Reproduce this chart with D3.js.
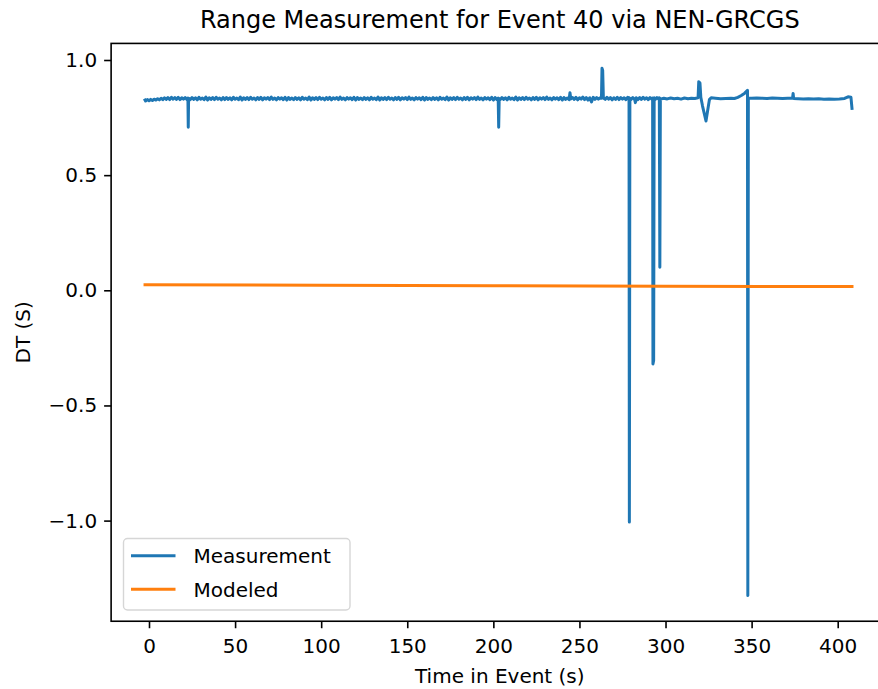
<!DOCTYPE html>
<html>
<head>
<meta charset="utf-8">
<script src="https://cdn.jsdelivr.net/npm/d3@7"></script>
<style>
  body { margin: 0; background: #fff; }
  text { font-family: "DejaVu Sans", sans-serif; fill: #000; }
  .tick line { stroke: #000; stroke-width: 1.6; }
  .tick text { font-size: 20px; }
</style>
</head>
<body>
<svg id="chart" width="878" height="689"></svg>
<script>
// time (s), DT (s)
const measurement = [
  [-2.3,.826],[-2,.822],[-1,.828],[0,.823],[1,.829],[2,.824],[3,.830],[4,.826],[5,.832],[6,.827],[7,.834],
  [8,.828],[9,.836],[10,.829],[11,.837],[12,.828],[13,.838],[14,.830],[15,.837],[16,.829],[17,.838],
  [18,.828],[19,.836],[20,.830],[21,.837],[22,.829],[22.6,.835],[22.8,.708],[23.0,.834],
  [24,.828],[25,.837],[26,.829],[27,.836],[28,.827],[29,.838],[30,.830],[31,.835],[32,.828],[33,.839],
  [34,.826],[35,.836],[36,.829],[37,.837],[38,.828],[39,.838],[40,.830],[41,.835],[42,.827],[43,.837],
  [44,.828],[45,.837],[46,.829],[47,.836],[48,.827],[49,.838],[50,.830],[51,.835],[52,.828],[53,.839],
  [54,.826],[55,.836],[56,.829],[57,.837],[58,.828],[59,.838],[60,.830],[61,.835],[62,.827],[63,.837],
  [64,.829],[65,.838],[66,.827],[67,.836],[68,.830],[69,.837],[70,.828],[71,.839],[72,.829],[73,.835],
  [74,.827],[75,.837],[76,.830],[77,.836],[78,.828],[79,.838],[80,.826],[81,.837],[82,.829],[83,.835],
  [84,.828],[85,.837],[86,.829],[87,.836],[88,.827],[89,.838],[90,.830],[91,.835],[92,.828],[93,.839],
  [94,.826],[95,.836],[96,.829],[97,.837],[98,.828],[99,.838],[100,.830],[101,.835],[102,.827],[103,.837],
  [104,.829],[105,.838],[106,.827],[107,.836],[108,.830],[109,.837],[110,.828],[111,.839],[112,.829],[113,.835],
  [114,.827],[115,.837],[116,.830],[117,.836],[118,.828],[119,.838],[120,.826],[121,.837],[122,.829],[123,.835],
  [124,.828],[125,.837],[126,.829],[127,.836],[128,.827],[129,.838],[130,.830],[131,.835],[132,.828],[133,.839],
  [134,.826],[135,.836],[136,.829],[137,.837],[138,.828],[139,.838],[140,.830],[141,.835],[142,.827],[143,.837],
  [144,.829],[145,.838],[146,.827],[147,.836],[148,.830],[149,.837],[150,.828],[151,.839],[152,.829],[153,.835],
  [154,.827],[155,.837],[156,.830],[157,.836],[158,.828],[159,.838],[160,.826],[161,.837],[162,.829],[163,.835],
  [164,.828],[165,.837],[166,.829],[167,.836],[168,.827],[169,.838],[170,.830],[171,.835],[172,.828],[173,.839],
  [174,.826],[175,.836],[176,.829],[177,.837],[178,.828],[179,.838],[180,.830],[181,.835],[182,.827],[183,.837],
  [184,.829],[185,.838],[186,.827],[187,.836],[188,.830],[189,.837],[190,.828],[191,.839],[192,.829],[193,.835],
  [194,.827],[195,.837],[196,.830],[197,.836],[198,.828],[199,.838],[200,.826],[201,.837],[202,.829],[202.8,.835],
  [203.1,.708],[203.4,.833],
  [204,.828],[205,.837],[206,.829],[207,.836],[208,.827],[209,.838],[210,.830],[211,.835],[212,.828],[213,.839],
  [214,.826],[215,.836],[216,.829],[217,.837],[218,.828],[219,.838],[220,.830],[221,.835],[222,.827],[223,.837],
  [224,.829],[225,.838],[226,.827],[227,.836],[228,.830],[229,.837],[230,.828],[231,.839],[232,.829],[233,.835],
  [234,.827],[235,.837],[236,.830],[237,.836],[238,.828],[239,.838],[240,.826],[241,.837],[242,.829],[243,.835],
  [244,.828],[244.5,.858],[245,.831],[246,.837],[247,.829],[248,.838],[249,.827],[250,.836],[251,.830],[252,.839],
  [253,.828],[254,.837],[255,.826],[256,.836],[257,.818],[258,.838],[259,.829],[260,.837],[261,.830],[262,.836],
  [262.8,.834],[263.1,.964],[263.5,.955],[263.9,.835],[265,.829],[266,.838],[267,.830],[268,.837],[269,.827],[270,.836],
  [271,.829],[272,.838],[273,.828],[274,.837],[275,.830],[276,.836],[277,.828],[278,.838],[278.8,.836],[279.0,-1.006],
  [279.3,.834],[280,.829],[281,.837],[282,.830],[282.5,.815],[283,.836],[284,.828],[285,.837],[286,.829],[287,.838],
  [288,.830],[289,.836],[290,.828],[291,.837],[292,.830],[292.5,.835],[292.7,-.320],[293.1,-.305],[293.4,.836],[294,.829],
  [295,.837],[296,.830],[296.4,.836],[296.7,.100],[297.0,.830],
  [299,.834],[301,.831],[303,.835],[305,.832],[307,.834],[309,.830],[311,.835],[313,.832],[315,.834],[317,.833],
  [318.9,.836],[319.3,.906],[320.0,.900],[320.5,.838],[321.5,.800],[323.5,.735],[325.5,.828],[326.5,.836],[329,.834],[332,.832],
  [335,.833],[338,.834],[340,.833],[342,.838],[344,.846],[346,.856],[347.6,.868],[347.8,-1.325],[348.1,.835],[350,.834],
  [353,.835],[356,.834],[359,.833],[362,.835],[365,.834],[368,.833],[371,.834],[373.8,.835],[374.1,.855],[374.4,.833],
  [377,.832],[380,.831],[383,.832],[386,.831],[389,.832],[392,.830],[395,.831],[398,.830],[401,.831],[404,.833],
  [406,.840],[407.7,.838],[408.3,.790]
];
const modeled = [[-2.3,0.024],[100,0.022],[200,0.020],[300,0.018],[408.3,0.016]];
const xTicks = [0, 50, 100, 150, 200, 250, 300, 350, 400];
const yTicks = [-1.0, -0.5, 0.0, 0.5, 1.0];
const xLim = [-22, 429.5];
const yLim = [-1.437, 1.072];
const seriesNames = ["Measurement", "Modeled"];
const colors = ["#1f77b4", "#ff7f0e"];

var svg = d3.select("#chart");

var x = d3.scaleLinear().domain([0, 400]).range([149, 837.7]);
var y = d3.scaleLinear().domain([-1.0, 1.0]).range([520.6, 60]);

var plotLeft = x(xLim[0]), plotRight = x(xLim[1]);
var plotTop = y(yLim[1]), plotBottom = y(yLim[0]);

var plot = svg.append("g");
plot.append("clipPath").attr("id", "clip").append("rect")
  .attr("x", plotLeft).attr("y", plotTop)
  .attr("width", plotRight - plotLeft).attr("height", plotBottom - plotTop);

var line = d3.line().x(function(d) { return x(d[0]) }).y(function(d) { return y(d[1]) });

var lines = plot.append("g").attr("clip-path", "url(#clip)");
[measurement, modeled].forEach(function(data, i) {
  lines.append("path").datum(data)
    .attr("fill", "none")
    .attr("stroke", colors[i])
    .attr("stroke-width", 3)
    .attr("stroke-linejoin", "round")
    .attr("stroke-linecap", "square")
    .attr("d", line);
});

// axes
var xAxis = d3.axisBottom(x).tickValues(xTicks).tickSize(7).tickPadding(6).tickFormat(d3.format("d"));
var yAxis = d3.axisLeft(y).tickValues(yTicks).tickSize(7).tickPadding(7).tickFormat(d3.format(".1f"));

var gx = svg.append("g").attr("transform", "translate(0," + plotBottom + ")").call(xAxis);
gx.select(".domain").remove();
gx.selectAll(".tick text").attr("dy", "0.95em");

var gy = svg.append("g").attr("transform", "translate(" + plotLeft + ",0)").call(yAxis);
gy.select(".domain").remove();

// spines
svg.append("rect")
  .attr("x", plotLeft).attr("y", plotTop)
  .attr("width", plotRight - plotLeft).attr("height", plotBottom - plotTop)
  .attr("fill", "none").attr("stroke", "#000").attr("stroke-width", 1.6);

svg.append("text")
  .attr("x", (plotLeft + plotRight) / 2).attr("y", 28)
  .attr("text-anchor", "middle").style("font-size", "24px")
  .text("Range Measurement for Event 40 via NEN-GRCGS");

svg.append("text")
  .attr("x", (plotLeft + plotRight) / 2).attr("y", 683)
  .attr("text-anchor", "middle").style("font-size", "20px")
  .text("Time in Event (s)");

svg.append("text")
  .attr("transform", "translate(30," + (plotTop + plotBottom) / 2 + ") rotate(-90)")
  .attr("text-anchor", "middle").style("font-size", "20px")
  .text("DT (S)");

// legend
var legend = svg.append("g");
legend.append("rect")
  .attr("x", 123.5).attr("y", 538.5).attr("width", 226.5).attr("height", 71.5)
  .attr("rx", 4).attr("fill", "#fff").attr("fill-opacity", 0.8)
  .attr("stroke", "#d6d6d6").attr("stroke-width", 1.4);
seriesNames.forEach(function(name, i) {
  var ly = 555.7 + i * 33.5;
  legend.append("line")
    .attr("x1", 131).attr("x2", 175.5).attr("y1", ly).attr("y2", ly)
    .attr("stroke", colors[i]).attr("stroke-width", 3);
  legend.append("text")
    .attr("x", 193.5).attr("y", ly + 7.5).style("font-size", "20px")
    .text(name);
});
</script>
</body>
</html>
